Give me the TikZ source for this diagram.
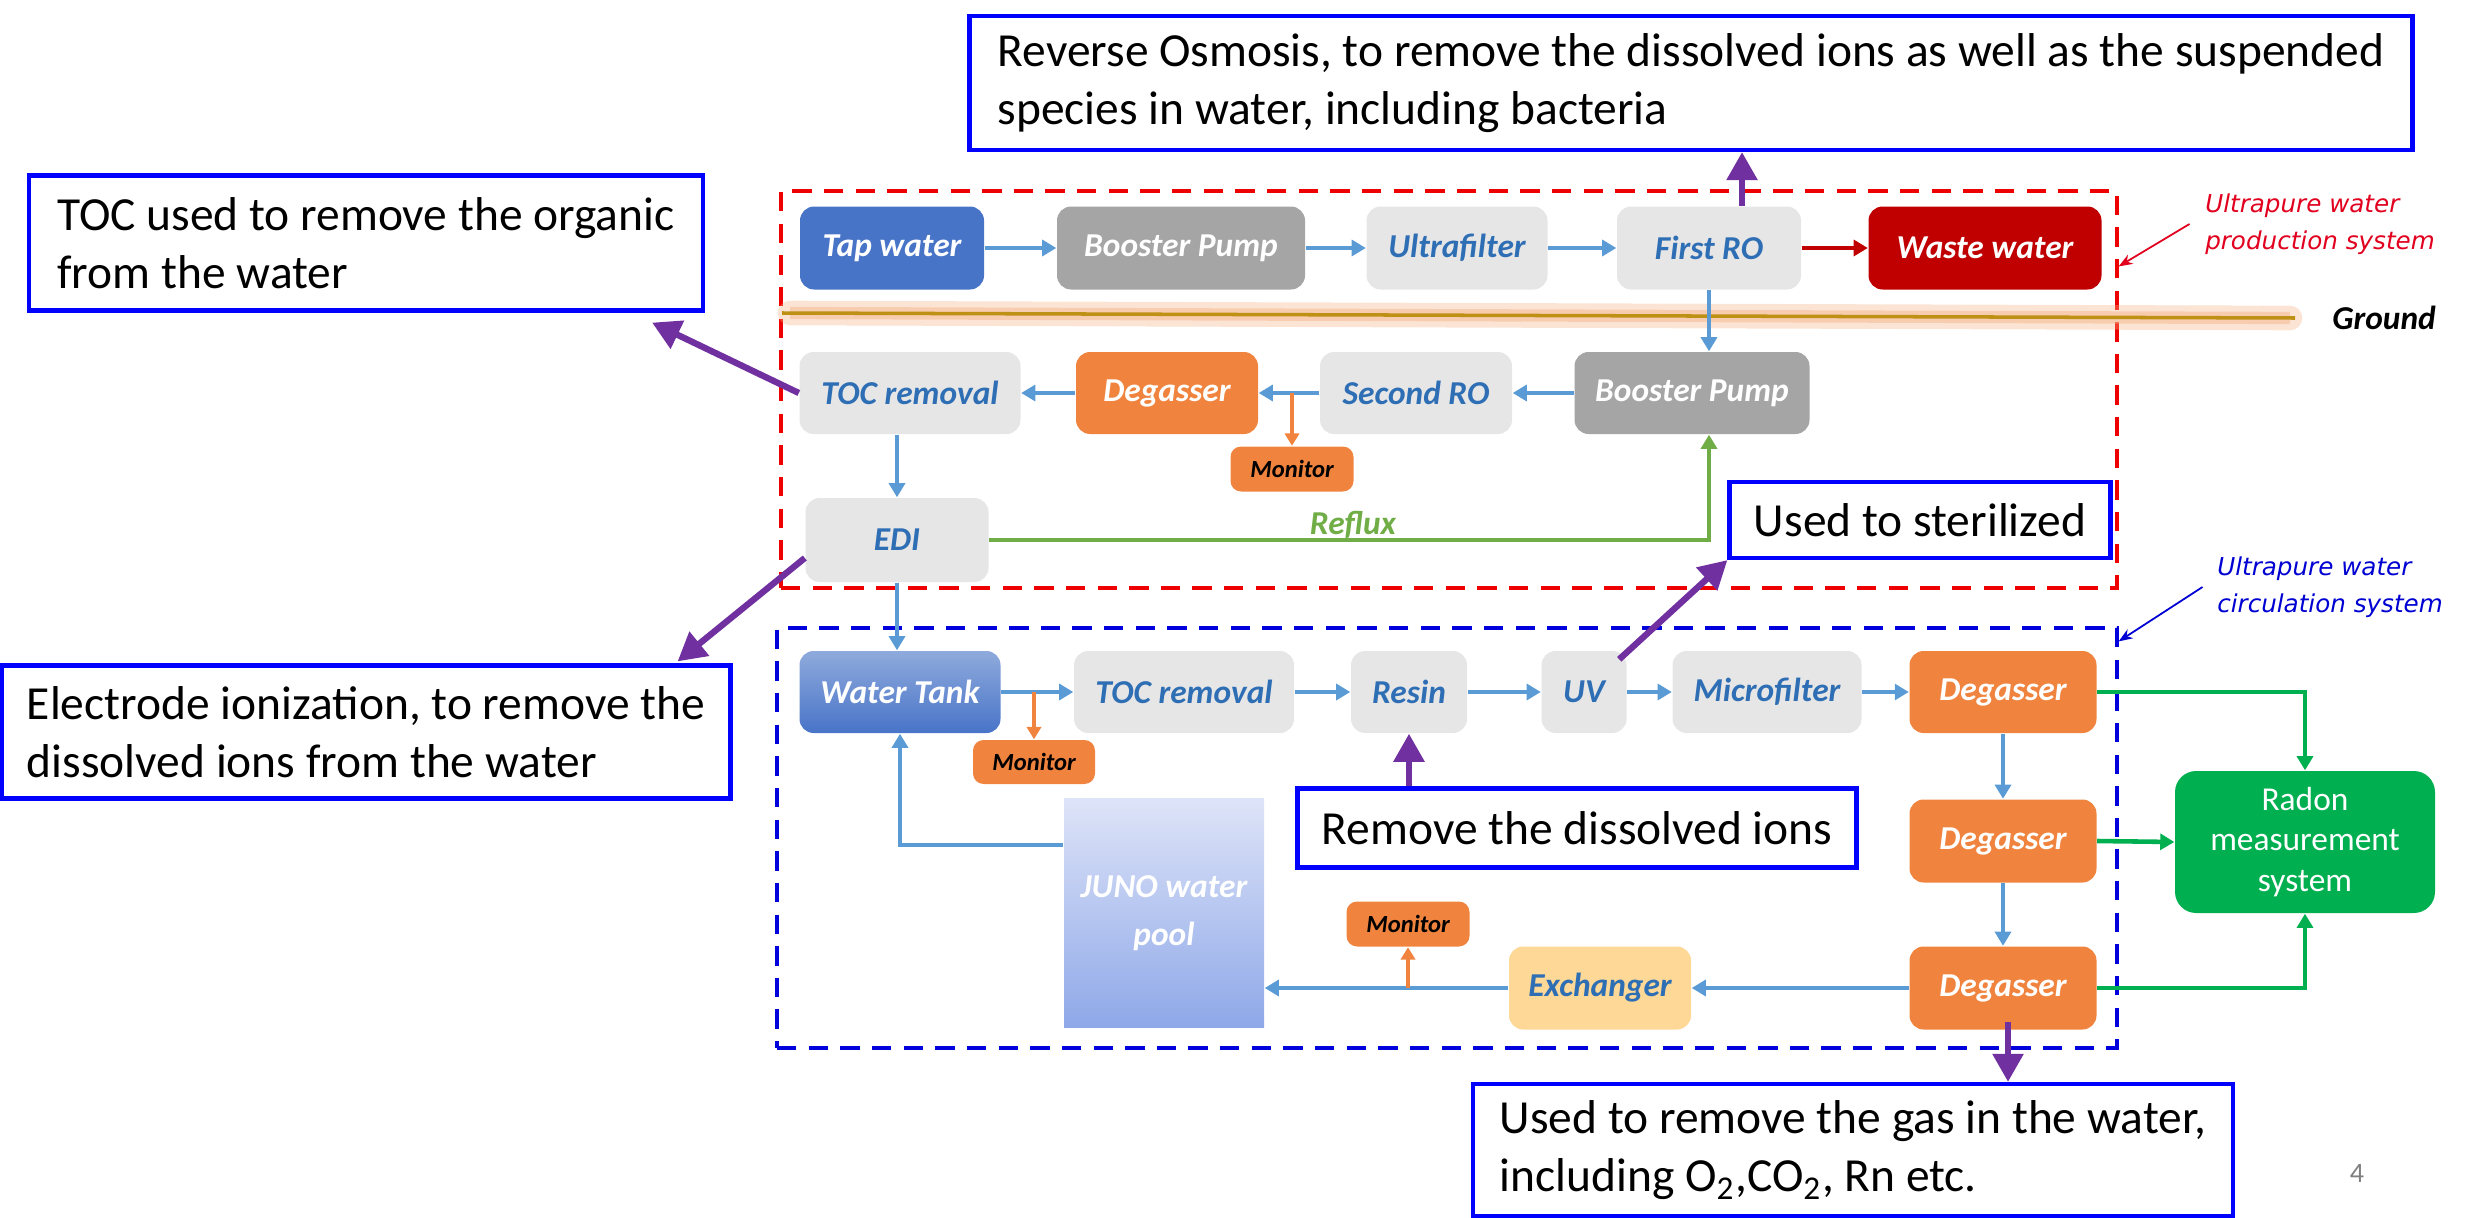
\documentclass[tikz,border=0pt]{standalone}
\usepackage{fontspec}
\setmainfont{Carlito}
\newfontfamily\vfont{DejaVu Sans}
\usetikzlibrary{arrows.meta,calc}
\definecolor{cFlow}{RGB}{91,155,213}
\definecolor{cBoxGray}{RGB}{231,230,230}
\definecolor{cPump}{RGB}{165,165,165}
\definecolor{cTxtBlue}{RGB}{46,110,180}
\definecolor{cTap}{RGB}{72,116,200}
\definecolor{cTankTop}{RGB}{143,170,220}
\definecolor{cWaste}{RGB}{192,0,0}
\definecolor{cOrange}{RGB}{240,132,62}
\definecolor{cExch}{RGB}{253,216,150}
\definecolor{cRadon}{RGB}{0,176,80}
\definecolor{cReflux}{RGB}{112,173,71}
\definecolor{cPurple}{RGB}{112,48,160}
\definecolor{cAnn}{RGB}{0,0,255}
\definecolor{cRedBox}{RGB}{238,0,0}
\definecolor{cBlueBox}{RGB}{0,0,220}
\definecolor{cRedLab}{RGB}{225,0,30}
\definecolor{cBlueLab}{RGB}{0,0,210}
\definecolor{cJunoTop}{RGB}{222,228,248}
\definecolor{cJunoBot}{RGB}{142,168,232}
\definecolor{cGround}{RGB}{190,144,20}
\definecolor{cGlow}{RGB}{244,177,131}
\begin{document}
\begin{tikzpicture}[x=0.01cm,y=-0.01cm,
  wh/.style 2 args={minimum width=#1*0.01cm, minimum height=#2*0.01cm},
  proc/.style={rounded corners=4pt, inner sep=0pt, align=center,
    font=\bfseries\itshape\fontsize{9.5}{11}\selectfont},
  lgray/.style={proc, fill=cBoxGray, text=cTxtBlue},
  dgray/.style={proc, fill=cPump, text=white},
  orangebox/.style={proc, fill=cOrange, text=white},
  monbox/.style={proc, rounded corners=3pt, fill=cOrange, text=black,
    font=\bfseries\itshape\fontsize{7}{8}\selectfont},
  flow/.style={draw=cFlow, line width=1.3pt, -{Triangle[length=4pt,width=4.5pt]}},
  redflow/.style={draw=cWaste, line width=1.4pt, -{Triangle[length=4pt,width=4.5pt]}},
  oflow/.style={draw=cOrange, line width=1.1pt, -{Triangle[length=3.5pt,width=4pt]}},
  gflow/.style={draw=cReflux, line width=1.3pt, -{Triangle[length=4pt,width=4.5pt]}},
  rflow/.style={draw=cRadon, line width=1.3pt, -{Triangle[length=4pt,width=4.5pt]}},
  purp/.style={draw=cPurple, line width=1.8pt, -{Triangle[length=8pt,width=8.5pt]}},
  annot/.style={draw=cAnn, line width=1.2pt, fill=white, align=left, inner xsep=0.05cm, inner ysep=0pt,
    font=\fontsize{13.5}{16.5}\selectfont},
  syslab/.style={font=\vfont\itshape\fontsize{7}{10.5}\selectfont, align=left, inner sep=0pt},
  dashbox/.style={line width=0.9pt, dash pattern=on 5.5pt off 3.5pt, inner sep=0pt}
]
\useasboundingbox (0,0) rectangle (2481,1218);

% system boxes
\node[dashbox, draw=cRedBox, wh={1336}{397}] (prodbox) at (1449,389.5) {};
\node[dashbox, draw=cBlueBox, wh={1340}{420}] (circbox) at (1447,838) {};

% ground line
\draw[cGlow, opacity=0.35, line width=7pt, line cap=round] (790,313) -- (2290,318);
\draw[cGlow, opacity=0.45, line width=3.5pt] (790,313) -- (2290,318);
\draw[cGround, line width=1pt] (782,313) coordinate (g1) -- (2295,318) coordinate (g2);
\node[font=\bfseries\itshape\fontsize{9.5}{11}\selectfont] (ground) at (2384,318) {Ground};

% row 1
\node[proc, fill=cTap, text=white, wh={184}{83}] (tap) at (892,248) {Tap water};
\node[dgray, wh={248}{83}] (bp1) at (1181,248) {Booster Pump};
\node[lgray, wh={181}{83}] (uf) at (1457,248) {Ultrafilter};
\node[lgray, wh={184}{83}] (ro1) at (1709,248) {First RO};
\node[proc, fill=cWaste, text=white, wh={233}{83}] (waste) at (1985,248) {Waste water};

% row 2
\node[lgray, wh={221}{82}] (toc1) at (910,393) {TOC removal};
\node[orangebox, wh={182}{82}] (deg1) at (1167,393) {Degasser};
\node[lgray, wh={192}{82}] (ro2) at (1416,393) {Second RO};
\node[dgray, wh={235}{82}] (bp2) at (1692,393) {Booster Pump};
\node[monbox, wh={123}{45}] (mon1) at (1292,469) {Monitor};
\node[lgray, wh={183}{84}] (edi) at (897,540) {EDI};
\node[font=\bfseries\itshape\fontsize{9.5}{11}\selectfont, text=cReflux] (reflux) at (1353,525) {Reflux};

% row 3
\node[proc, top color=cTankTop, bottom color=cTap, text=white, wh={201}{82}] (tank) at (900,692) {Water Tank};
\node[lgray, wh={220}{82}] (toc2) at (1184,692) {TOC removal};
\node[lgray, wh={116}{82}] (resin) at (1409,692) {Resin};
\node[lgray, wh={85}{82}] (uv) at (1584,692) {UV};
\node[lgray, wh={189}{82}] (mf) at (1767,692) {Microfilter};
\node[orangebox, wh={187}{82}] (degA) at (2003,692) {Degasser};
\node[orangebox, wh={187}{83}] (degB) at (2003,841) {Degasser};
\node[orangebox, wh={187}{83}] (degC) at (2003,988) {Degasser};
\node[monbox, wh={122}{44}] (mon2) at (1034,762) {Monitor};
\node[monbox, wh={123}{45}] (mon3) at (1408,924) {Monitor};
\node[lgray, fill=cExch, wh={182}{83}] (exch) at (1600,988) {Exchanger};
\node[proc, rounded corners=0pt, top color=cJunoTop, bottom color=cJunoBot, text=white,
  wh={200}{229}, font=\bfseries\itshape\fontsize{9.5}{13.5}\selectfont] (juno) at (1164,913) {JUNO water\\pool};
\node[proc, rounded corners=6pt, fill=cRadon, text=white, wh={260}{142},
  font=\fontsize{9.5}{11.4}\selectfont] (radon) at (2305,842) {Radon\\measurement\\system};

% system labels
\node[syslab, text=cRedLab] (prodlab) at (2320,224) {Ultrapure water\\production system};
\node[syslab, text=cBlueLab] (circlab) at (2330,587) {Ultrapure water\\circulation system};
\draw[cRedLab, line width=0.5pt, -{Stealth[length=4pt,width=3pt]}] ([xshift=-0.15cm]prodlab.west) -- ([yshift=-0.77cm]prodbox.north east);
\draw[cBlueLab, line width=0.5pt, -{Stealth[length=4pt,width=3pt]}] ([xshift=-0.14cm]circlab.west) -- ([yshift=-0.15cm]circbox.north east);

% flows row 1
\draw[flow] (tap.east) -- (bp1.west);
\draw[flow] (bp1.east) -- (uf.west);
\draw[flow] (uf.east) -- (ro1.west);
\draw[redflow] (ro1.east) -- (waste.west);
\draw[flow] (ro1.south) -- (ro1.south |- bp2.north);
% flows row 2
\draw[flow] (bp2.west) -- (ro2.east);
\draw[flow] (ro2.west) -- (deg1.east);
\draw[flow] (deg1.west) -- (toc1.east);
\draw[oflow] (mon1.north |- deg1.east) -- (mon1.north);
\draw[flow] (toc1.south -| edi.north) -- (edi.north);
\draw[gflow] (edi.east) -| (ro1.south |- bp2.south);
\draw[flow] (edi.south) -- (edi.south |- tank.north);
% flows row 3
\draw[flow] (tank.east) -- (toc2.west);
\draw[flow] (toc2.east) -- (resin.west);
\draw[flow] (resin.east) -- (uv.west);
\draw[flow] (uv.east) -- (mf.west);
\draw[flow] (mf.east) -- (degA.west);
\draw[oflow] (mon2.north |- tank.east) -- (mon2.north);
\draw[flow] (degA.south) -- (degB.north);
\draw[flow] (degB.south) -- (degC.north);
\draw[flow] (degC.west) -- (exch.east);
\draw[flow] (exch.west) -- (exch.west -| juno.east);
\draw[oflow] (mon3.south |- exch.west) -- (mon3.south);
\draw[flow] ([yshift=0.68cm]juno.west) -| (tank.south);
\draw[rflow] (degA.east) -| (radon.north);
\draw[rflow] (degB.east) -- (radon.west);
\draw[rflow] (degC.east) -| (radon.south);

% annotations
\node[annot, wh={1443}{134}] (annRO) at (1691,83)
  {Reverse Osmosis, to remove the dissolved ions as well as the suspended\\species in water, including bacteria};
\node[annot, wh={674}{135}] (annTOC) at (366,243)
  {TOC used to remove the organic\\from the water};
\node[annot, wh={729}{133}] (annEDI) at (366,732)
  {Electrode ionization, to remove the\\dissolved ions from the water};
\node[annot, wh={381}{76}] (annUV) at (1920,520)
  {Used to sterilized};
\node[annot, wh={559}{79}] (annResin) at (1577,828)
  {Remove the dissolved ions};
\node[annot, wh={760}{132}] (annGas) at (1853,1150)
  {Used to remove the gas in the water,\\including O\textsubscript{2},CO\textsubscript{2}, Rn etc.};

% purple pointers
\draw[purp] ([xshift=0.33cm]ro1.north) -- ([xshift=0.33cm]ro1.north |- annRO.south);
\draw[purp] (toc1.west) -- ([xshift=-0.53cm,yshift=-0.1cm]annTOC.south east);
\draw[purp] ([yshift=-0.18cm]edi.west) -- ([xshift=-0.55cm,yshift=0.02cm]annEDI.north east);
\draw[purp] ([xshift=-0.08cm,yshift=-0.09cm]uv.north east) -- (annUV.south west);
\draw[purp] (resin.south |- annResin.north) -- (resin.south);
\draw[purp] ([xshift=0.05cm,yshift=0.08cm]degC.south) -- ([xshift=0.05cm]degC.south |- annGas.north);

% page number
\node[text=gray, font=\fontsize{8}{9}\selectfont] (pagenum) at (2357,1173) {4};
\end{tikzpicture}
\end{document}
